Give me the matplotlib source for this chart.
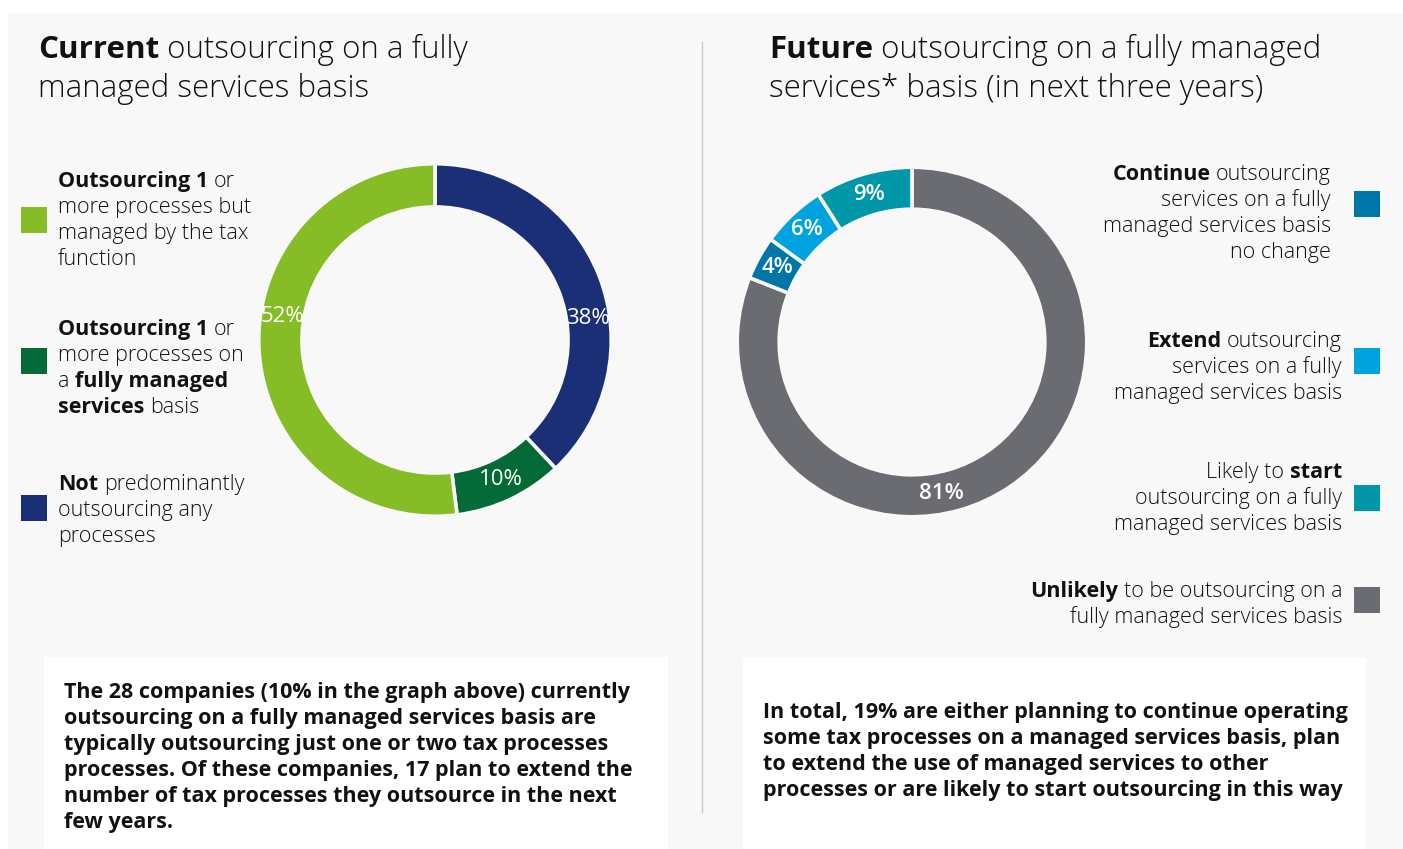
import matplotlib
matplotlib.use("Agg")
import matplotlib.pyplot as plt
from matplotlib.patches import Rectangle
import numpy as np

# ---- data ---------------------------------------------------------------
current_pct = [38, 10, 52]
current_colors = ["#1b2f76", "#046a38", "#86bc25"]

future_pct = [81, 4, 6, 9]
future_colors = ["#6b6c71", "#0076a8", "#00a3e0", "#0097a9"]

# legend entries: colour + lines, each line a list of (text, bold?) runs
current_legend = [
    ("#86bc25", [[("Outsourcing 1", True), ("or", False)],
                 [("more processes but", False)],
                 [("managed by the tax", False)],
                 [("function", False)]]),
    ("#046a38", [[("Outsourcing 1", True), ("or", False)],
                 [("more processes on", False)],
                 [("a", False), ("fully managed", True)],
                 [("services", True), ("basis", False)]]),
    ("#1b2f76", [[("Not", True), ("predominantly", False)],
                 [("outsourcing any", False)],
                 [("processes", False)]]),
]

future_legend = [
    ("#0076a8", [[("Continue", True), ("outsourcing", False)],
                 [("services on a fully", False)],
                 [("managed services basis", False)],
                 [("no change", False)]]),
    ("#00a3e0", [[("Extend", True), ("outsourcing", False)],
                 [("services on a fully", False)],
                 [("managed services basis", False)]]),
    ("#0097a9", [[("Likely to", False), ("start", True)],
                 [("outsourcing on a fully", False)],
                 [("managed services basis", False)]]),
    ("#6b6c71", [[("Unlikely", True), ("to be outsourcing on a", False)],
                 [("fully managed services basis", False)]]),
]

current_note = [
    "The 28 companies (10% in the graph above) currently",
    "outsourcing on a fully managed services basis are",
    "typically outsourcing just one or two tax processes",
    "processes. Of these companies, 17 plan to extend the",
    "number of tax processes they outsource in the next",
    "few years.",
]
future_note = [
    "In total, 19% are either planning to continue operating",
    "some tax processes on a managed services basis, plan",
    "to extend the use of managed services to other",
    "processes or are likely to start outsourcing in this way",
]

# ---- figure -------------------------------------------------------------
W, H = 1403, 849
PANEL = "#f8f8f8"
FONT = ["Open Sans", "DejaVu Sans"]
INK = "#111111"
TITLE = 22.5
LEG = 15.5
NOTE = 15.5

fig = plt.figure(figsize=(W / 100, H / 100), dpi=100)
fig.patch.set_facecolor("white")
renderer = fig.canvas.get_renderer()


def fx(x):
    return x / W


def fy(y):
    return 1 - y / H


def box(x0, y0, x1, y1, color, z=0):
    fig.add_artist(Rectangle((fx(x0), fy(y1)), (x1 - x0) / W, (y1 - y0) / H,
                             transform=fig.transFigure, facecolor=color,
                             edgecolor="none", zorder=z))


def text_width(s, size, bold):
    t = fig.text(0, 0, s, fontsize=size, family=FONT,
                 fontweight="bold" if bold else "light")
    w = t.get_window_extent(renderer).width
    t.remove()
    return w


def rich_line(x, y, runs, size, ha="left"):
    space = text_width("a a", size, False) - text_width("aa", size, False)
    widths = [text_width(s, size, b) for s, b in runs]
    total = sum(widths) + space * (len(runs) - 1)
    cur = x if ha == "left" else x - total
    for (s, b), wd in zip(runs, widths):
        fig.text(fx(cur), fy(y), s, fontsize=size, family=FONT,
                 fontweight="bold" if b else "light", color=INK,
                 ha="left", va="baseline", zorder=5)
        cur += wd + space


# background panel, divider and note boxes
box(8, 13, W, H, PANEL)
fig.add_artist(plt.Line2D([fx(702), fx(702)], [fy(42), fy(812)],
                          transform=fig.transFigure, color="#c9c9c9", lw=1))
box(44, 657, 668, H, "white", 1)
box(743, 657, 1366, H, "white", 1)

# titles
rich_line(38, 58, [("Current", True), ("outsourcing on a fully", False)], TITLE)
rich_line(38, 97, [("managed services basis", False)], TITLE)
rich_line(769, 58, [("Future", True), ("outsourcing on a fully managed", False)], TITLE)
rich_line(769, 97, [("services* basis (in next three years)", False)], TITLE)


def donut(cx, cy, r, values, colors, ring, label_pos, weight):
    ax = fig.add_axes([fx(cx - r), fy(cy + r), 2 * r / W, 2 * r / H])
    wedges, _ = ax.pie(values, colors=colors, startangle=90, counterclock=False,
                       radius=1.0,
                       wedgeprops=dict(width=ring, edgecolor=PANEL, linewidth=2.6))
    ax.set_xlim(-1.01, 1.01)
    ax.set_ylim(-1.01, 1.01)
    ax.set_aspect("equal")
    ax.axis("off")
    rr = 1 - ring / 2
    for w, v, f in zip(wedges, values, label_pos):
        ang = np.radians(w.theta2 - f * (w.theta2 - w.theta1))
        ax.text(rr * np.cos(ang), rr * np.sin(ang), f"{v}%", ha="center",
                va="center", color="white", fontsize=16, family=FONT,
                fontweight=weight)


donut(435, 340, 178, current_pct, current_colors, 0.245, [0.6, 0.5, 0.565], "normal")
donut(912, 342, 176.5, future_pct, future_colors, 0.24, [0.58, 0.5, 0.5, 0.5], "semibold")

# left legend
left_base = [187, 335, 490]
left_sq = [220, 361, 508]
for (color, lines), y0, sq in zip(current_legend, left_base, left_sq):
    box(21, sq - 13, 47, sq + 13, color, 2)
    for i, runs in enumerate(lines):
        rich_line(58, y0 + 26 * i, runs, LEG)

# right legend
right_base = [180, 347, 478, 597]
right_sq = [204, 361, 498, 600]
right_edge = [1331, 1342, 1342, 1342]
for (color, lines), y0, sq, xr in zip(future_legend, right_base, right_sq, right_edge):
    box(1354, sq - 13, 1380, sq + 13, color, 2)
    for i, runs in enumerate(lines):
        rich_line(xr, y0 + 26 * i, runs, LEG, ha="right")

# notes under the charts
for i, line in enumerate(current_note):
    fig.text(fx(64), fy(698 + 26 * i), line, fontsize=NOTE, family=FONT,
             fontweight="bold", color=INK, va="baseline", zorder=5)
for i, line in enumerate(future_note):
    fig.text(fx(763), fy(718 + 26 * i), line, fontsize=NOTE, family=FONT,
             fontweight="bold", color=INK, va="baseline", zorder=5)

fig.savefig("out.png", dpi=100, facecolor=fig.get_facecolor())
